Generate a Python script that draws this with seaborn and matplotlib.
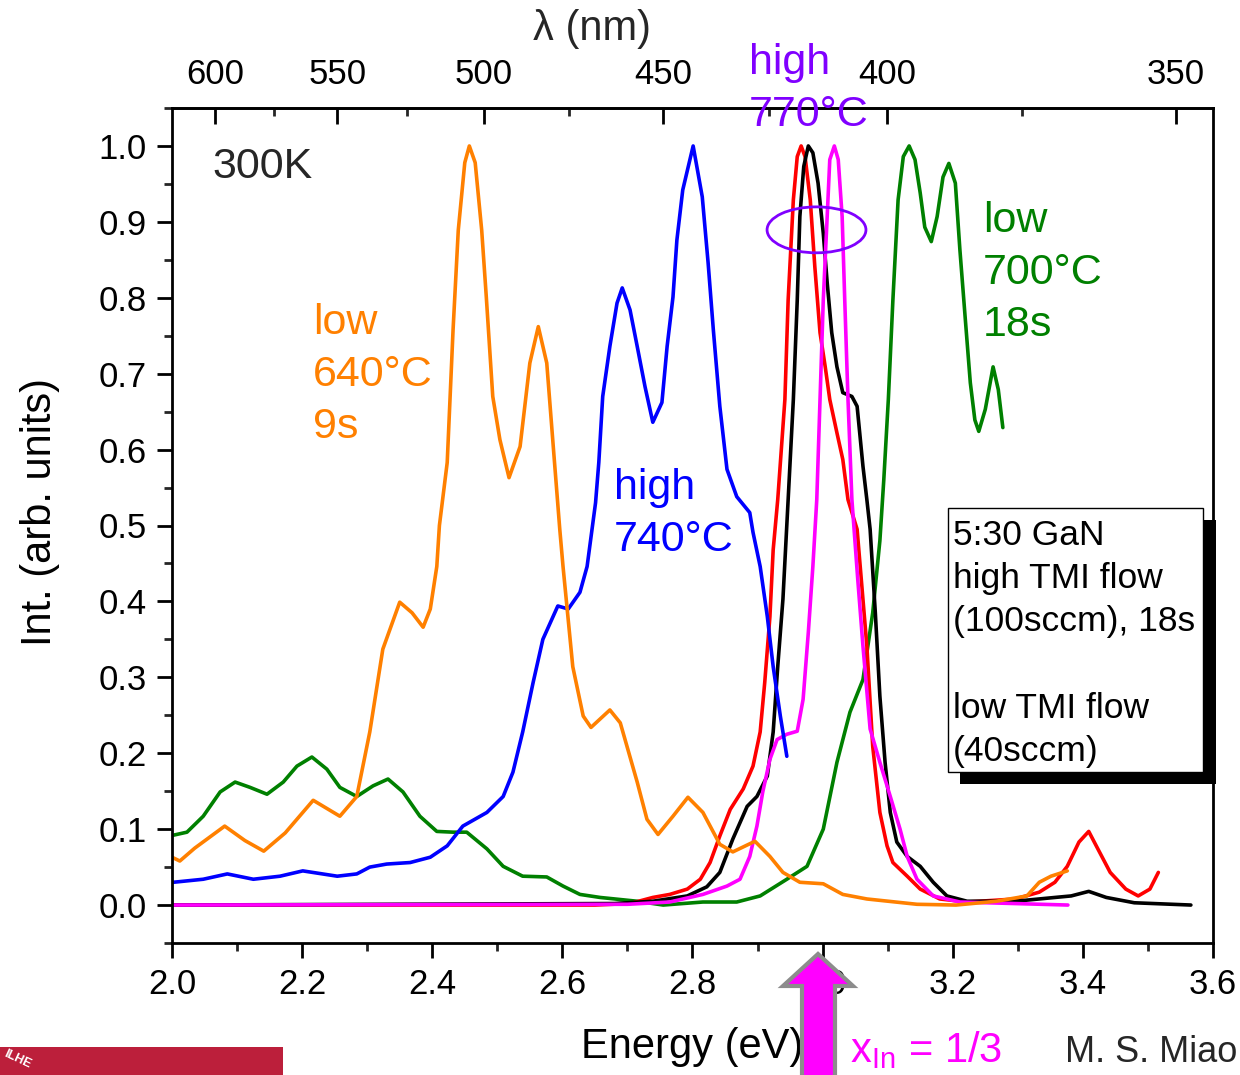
import numpy as np
import pandas as pd
import matplotlib
matplotlib.use("Agg")
import matplotlib.pyplot as plt
import seaborn as sns
from matplotlib.patches import Ellipse, Rectangle, Polygon
from matplotlib.ticker import MultipleLocator, FixedLocator, FormatStrFormatter

# ---------------- PL spectra (normalised), energy in eV ----------------
orange_E = [2.000, 2.012, 2.035, 2.081, 2.112, 2.141, 2.174, 2.217, 2.258, 2.284,
            2.304, 2.324, 2.350, 2.369, 2.386, 2.397, 2.407, 2.411, 2.423, 2.432,
            2.440, 2.450, 2.457, 2.466, 2.476, 2.483, 2.493, 2.504, 2.518, 2.535,
            2.550, 2.563, 2.576, 2.586, 2.596, 2.601, 2.616, 2.632, 2.644, 2.673,
            2.689, 2.715, 2.730, 2.747, 2.770, 2.793, 2.816, 2.842, 2.862, 2.896,
            2.919, 2.939, 2.965, 3.001, 3.031, 3.068, 3.145, 3.205, 3.267, 3.314,
            3.333, 3.351, 3.376]
orange_I = [0.063, 0.058, 0.075, 0.104, 0.085, 0.071, 0.095, 0.138, 0.117, 0.143,
            0.228, 0.337, 0.399, 0.385, 0.366, 0.390, 0.446, 0.500, 0.583, 0.758,
            0.889, 0.978, 1.000, 0.978, 0.889, 0.802, 0.670, 0.613, 0.563, 0.604,
            0.714, 0.762, 0.714, 0.604, 0.495, 0.446, 0.314, 0.249, 0.234, 0.257,
            0.240, 0.162, 0.113, 0.093, 0.117, 0.142, 0.122, 0.080, 0.070, 0.084,
            0.064, 0.043, 0.030, 0.028, 0.014, 0.008, 0.001, 0.000, 0.005, 0.012,
            0.030, 0.038, 0.045]

blue_E = [2.002, 2.048, 2.085, 2.125, 2.166, 2.201, 2.254, 2.284, 2.304, 2.330,
          2.366, 2.397, 2.423, 2.447, 2.484, 2.509, 2.524, 2.539, 2.555, 2.570,
          2.593, 2.609, 2.627, 2.638, 2.651, 2.656, 2.662, 2.673, 2.684, 2.692,
          2.704, 2.715, 2.727, 2.739, 2.753, 2.761, 2.770, 2.776, 2.785, 2.801,
          2.815, 2.824, 2.832, 2.842, 2.853, 2.868, 2.888, 2.893, 2.904, 2.915,
          2.924, 2.935, 2.945]
blue_I = [0.030, 0.034, 0.041, 0.034, 0.038, 0.045, 0.038, 0.041, 0.050, 0.054,
          0.056, 0.063, 0.078, 0.104, 0.122, 0.143, 0.175, 0.228, 0.293, 0.350,
          0.394, 0.390, 0.412, 0.446, 0.530, 0.583, 0.670, 0.736, 0.793, 0.813,
          0.784, 0.736, 0.683, 0.636, 0.662, 0.736, 0.801, 0.876, 0.942, 1.000,
          0.933, 0.846, 0.758, 0.657, 0.574, 0.538, 0.517, 0.491, 0.446, 0.380,
          0.314, 0.249, 0.196]

green_E = [2.002, 2.023, 2.048, 2.074, 2.097, 2.120, 2.146, 2.171, 2.192, 2.215,
           2.238, 2.258, 2.284, 2.309, 2.332, 2.355, 2.381, 2.407, 2.432, 2.453,
           2.484, 2.509, 2.539, 2.576, 2.601, 2.627, 2.658, 2.715, 2.755, 2.816,
           2.868, 2.904, 2.945, 2.976, 3.001, 3.022, 3.042, 3.062, 3.077, 3.088,
           3.094, 3.101, 3.108, 3.116, 3.124, 3.133, 3.142, 3.150, 3.157, 3.167,
           3.176, 3.185, 3.194, 3.204, 3.211, 3.219, 3.227, 3.234, 3.240, 3.250,
           3.262, 3.270, 3.277]
green_I = [0.092, 0.096, 0.117, 0.149, 0.162, 0.155, 0.146, 0.162, 0.183, 0.195,
           0.179, 0.155, 0.143, 0.157, 0.166, 0.149, 0.117, 0.097, 0.096, 0.096,
           0.074, 0.051, 0.038, 0.037, 0.025, 0.014, 0.010, 0.005, 0.000, 0.004,
           0.004, 0.012, 0.034, 0.051, 0.100, 0.188, 0.254, 0.297, 0.385, 0.480,
           0.560, 0.666, 0.797, 0.929, 0.986, 1.000, 0.982, 0.938, 0.893, 0.874,
           0.907, 0.959, 0.977, 0.951, 0.863, 0.775, 0.688, 0.639, 0.624, 0.653,
           0.709, 0.679, 0.629]

red_E = [2.000, 2.650, 2.704, 2.739, 2.765, 2.792, 2.812, 2.827, 2.842, 2.858,
         2.878, 2.893, 2.904, 2.911, 2.919, 2.924, 2.931, 2.942, 2.947, 2.955,
         2.961, 2.967, 2.973, 2.981, 2.988, 2.996, 3.004, 3.011, 3.022, 3.031,
         3.039, 3.053, 3.068, 3.077, 3.088, 3.099, 3.108, 3.130, 3.150, 3.180,
         3.222, 3.296, 3.333, 3.357, 3.376, 3.394, 3.409, 3.423, 3.442, 3.466,
         3.485, 3.503, 3.516]
red_I = [0.000, 0.000, 0.002, 0.010, 0.014, 0.021, 0.034, 0.056, 0.091, 0.126,
         0.153, 0.183, 0.228, 0.293, 0.380, 0.468, 0.534, 0.666, 0.797, 0.929,
         0.986, 1.000, 0.986, 0.929, 0.841, 0.754, 0.709, 0.666, 0.622, 0.587,
         0.534, 0.495, 0.341, 0.209, 0.122, 0.078, 0.056, 0.038, 0.021, 0.008,
         0.004, 0.008, 0.017, 0.030, 0.051, 0.083, 0.097, 0.074, 0.043, 0.021,
         0.012, 0.021, 0.043]

black_E = [2.000, 2.680, 2.739, 2.792, 2.822, 2.842, 2.862, 2.884, 2.899, 2.915,
           2.924, 2.931, 2.939, 2.947, 2.955, 2.961, 2.965, 2.971, 2.978, 2.985,
           2.993, 3.001, 3.007, 3.014, 3.022, 3.031, 3.045, 3.053, 3.057, 3.062,
           3.068, 3.073, 3.081, 3.088, 3.096, 3.104, 3.114, 3.130, 3.150, 3.170,
           3.191, 3.222, 3.296, 3.357, 3.382, 3.409, 3.436, 3.479, 3.566]
black_I = [0.000, 0.002, 0.005, 0.012, 0.024, 0.043, 0.087, 0.130, 0.143, 0.170,
           0.228, 0.314, 0.403, 0.534, 0.666, 0.797, 0.907, 0.973, 1.000, 0.991,
           0.951, 0.885, 0.820, 0.754, 0.709, 0.675, 0.670, 0.657, 0.622, 0.578,
           0.534, 0.495, 0.385, 0.275, 0.188, 0.122, 0.083, 0.064, 0.051, 0.030,
           0.012, 0.005, 0.005, 0.010, 0.012, 0.018, 0.010, 0.003, 0.000]

magenta_E = [2.000, 2.700, 2.765, 2.816, 2.853, 2.873, 2.888, 2.899, 2.908, 2.919,
             2.930, 2.945, 2.961, 2.970, 2.978, 2.985, 2.991, 2.996, 3.001, 3.007,
             3.011, 3.018, 3.024, 3.030, 3.034, 3.039, 3.045, 3.054, 3.062, 3.073,
             3.088, 3.104, 3.119, 3.130, 3.145, 3.170, 3.211, 3.377]
magenta_I = [0.000, 0.001, 0.004, 0.014, 0.025, 0.034, 0.064, 0.104, 0.149, 0.192,
             0.218, 0.225, 0.229, 0.271, 0.359, 0.446, 0.534, 0.666, 0.797, 0.907,
             0.982, 1.000, 0.982, 0.907, 0.797, 0.666, 0.534, 0.429, 0.341, 0.232,
             0.188, 0.143, 0.100, 0.064, 0.034, 0.012, 0.004, 0.000]

# tick values
energy_ticks = [2.0, 2.2, 2.4, 2.6, 2.8, 3.0, 3.2, 3.4, 3.6]
wavelength_ticks = [600, 550, 500, 450, 400, 350]
wavelength_minor = [575, 525, 475, 425, 375]
intensity_ticks = [0.0, 0.1, 0.2, 0.3, 0.4, 0.5, 0.6, 0.7, 0.8, 0.9, 1.0]

box_lines = ["5:30 GaN", "high TMI flow", "(100sccm), 18s", "",
             "low TMI flow", "(40sccm)"]

# ---------------- style ----------------
sns.set_theme(style="ticks")
plt.rcParams['font.family'] = ['Liberation Sans', 'DejaVu Sans']
plt.rcParams['mathtext.fontset'] = 'custom'
plt.rcParams['mathtext.rm'] = 'Liberation Sans'
plt.rcParams['mathtext.it'] = 'Liberation Sans'

W, H = 1240, 1075
fig = plt.figure(figsize=(W / 100, H / 100), dpi=100)
fig.patch.set_facecolor('white')


def fx(px):
    return px / W


def fy(py):
    return 1 - py / H


def stacked_text(x, y0, lines, step, **kw):
    """Place one text per line, baselines `step` pixels apart."""
    for k, line in enumerate(lines):
        if line:
            fig.text(fx(x), fy(y0 + k * step), line, ha='left',
                     va='baseline', **kw)


ax = fig.add_axes([fx(172), fy(943), (1213 - 172) / W, (943 - 108) / H])
ax.set_facecolor('white')

series = [
    (green_E, green_I, '#008000'),
    (red_E, red_I, '#FF0000'),
    (black_E, black_I, '#000000'),
    (magenta_E, magenta_I, '#FF00FF'),
    (blue_E, blue_I, '#0000FF'),
    (orange_E, orange_I, '#FF8000'),
]
for e, i, c in series:
    df = pd.DataFrame({'E': e, 'I': i})
    sns.lineplot(data=df, x='E', y='I', ax=ax, color=c, linewidth=2.6,
                 sort=False, estimator=None)

ax.set_xlim(2.0, 3.6)
ax.set_ylim(-0.05, 1.05)

ax.set_xticks(energy_ticks)
ax.xaxis.set_minor_locator(MultipleLocator(0.1))
ax.set_yticks(intensity_ticks)
ax.yaxis.set_minor_locator(MultipleLocator(0.05))
ax.xaxis.set_major_formatter(FormatStrFormatter('%.1f'))
ax.yaxis.set_major_formatter(FormatStrFormatter('%.1f'))

for s in ax.spines.values():
    s.set_linewidth(2.0)
    s.set_color('black')

ax.tick_params(axis='both', which='major', direction='out', length=11, width=2,
               labelsize=25, colors='black', top=False, right=False)
ax.tick_params(axis='both', which='minor', direction='out', length=5.5, width=2,
               top=False, right=False)
ax.tick_params(axis='x', which='major', pad=7)
ax.tick_params(axis='y', which='major', pad=7)

ax.set_xlabel('Energy (eV)', fontsize=30, color='black')
ax.set_ylabel('Int. (arb. units)', fontsize=30, color='black')
ax.xaxis.set_label_coords(0.5, (943 - 1027) / 835)
ax.yaxis.set_label_coords((60 - 172) / 1041, (943 - 512) / 835)


# top wavelength axis
def e2l(e):
    e = np.asarray(e, dtype=float)
    with np.errstate(divide='ignore', invalid='ignore'):
        return 1239.84 / e


def l2e(l):
    l = np.asarray(l, dtype=float)
    with np.errstate(divide='ignore', invalid='ignore'):
        return 1239.84 / l


sec = ax.secondary_xaxis('top', functions=(e2l, l2e))
sec.set_xticks(wavelength_ticks)
sec.xaxis.set_minor_locator(FixedLocator(wavelength_minor))
sec.xaxis.set_major_formatter(FormatStrFormatter('%d'))
sec.tick_params(axis='x', which='major', direction='in', length=11.5, width=2,
                labelsize=25, pad=12, colors='black')
sec.tick_params(axis='x', which='minor', direction='in', length=6, width=2)
sec.spines['top'].set_linewidth(2.0)

fig.text(fx(592), fy(40), 'λ (nm)', fontsize=30, ha='center', va='baseline')

# annotations
fig.text(fx(212), fy(178), '300K', fontsize=31, ha='left', va='baseline')
stacked_text(313, 334, ['low', '640°C', '9s'], 52, fontsize=31, color='#FF8000')
stacked_text(614, 499, ['high', '740°C'], 52, fontsize=31, color='#0000FF')
stacked_text(983, 232, ['low', '700°C', '18s'], 52, fontsize=31, color='#008000')
stacked_text(749, 74, ['high', '770°C'], 52, fontsize=31, color='#8000FF',
             zorder=10)

ax.add_patch(Ellipse((2.9906, 0.8895), 0.152, 0.0605, fill=False,
                     edgecolor='#8000FF', linewidth=2.0, zorder=6))

# sample description box with drop shadow
fig.add_artist(Rectangle((fx(960), fy(784)), (1216 - 960) / W, (784 - 520) / H,
                         transform=fig.transFigure, facecolor='black',
                         edgecolor='none', zorder=5))
fig.add_artist(Rectangle((fx(948), fy(772)), (1203 - 948) / W, (772 - 508) / H,
                         transform=fig.transFigure, facecolor='white',
                         edgecolor='black', linewidth=1.0, zorder=6))
stacked_text(953, 545, box_lines, 43.2, fontsize=25.5, color='black', zorder=7)

# bottom captions
fig.text(fx(850), fy(1062), r'x$_{\mathregular{In}}$ = 1/3', fontsize=30,
         color='#FF00FF', ha='left', va='baseline')
fig.text(fx(1065), fy(1062), 'M. S. Miao', fontsize=26, ha='left',
         va='baseline')

# composition arrow
arrow_pts = [(818, 954), (853, 986), (835, 986), (835, 1085), (802, 1085),
             (802, 986), (783, 986)]
fig.add_artist(Polygon([(fx(x), fy(y)) for x, y in arrow_pts], closed=True,
                       transform=fig.transFigure, facecolor='#FF00FF',
                       edgecolor='#8C8C8C', linewidth=3.0, zorder=20))

# institutional banner
fig.add_artist(Rectangle((0, 0), 283 / W, (1075 - 1047) / H,
                         transform=fig.transFigure, facecolor='#BC1F3B',
                         edgecolor='none', zorder=5))
fig.text(fx(2), fy(1068), 'ILHE', fontsize=9, color='white', rotation=-25,
         ha='left', va='baseline', fontweight='bold', zorder=6)

fig.savefig('out.png', dpi=100, facecolor='white')
